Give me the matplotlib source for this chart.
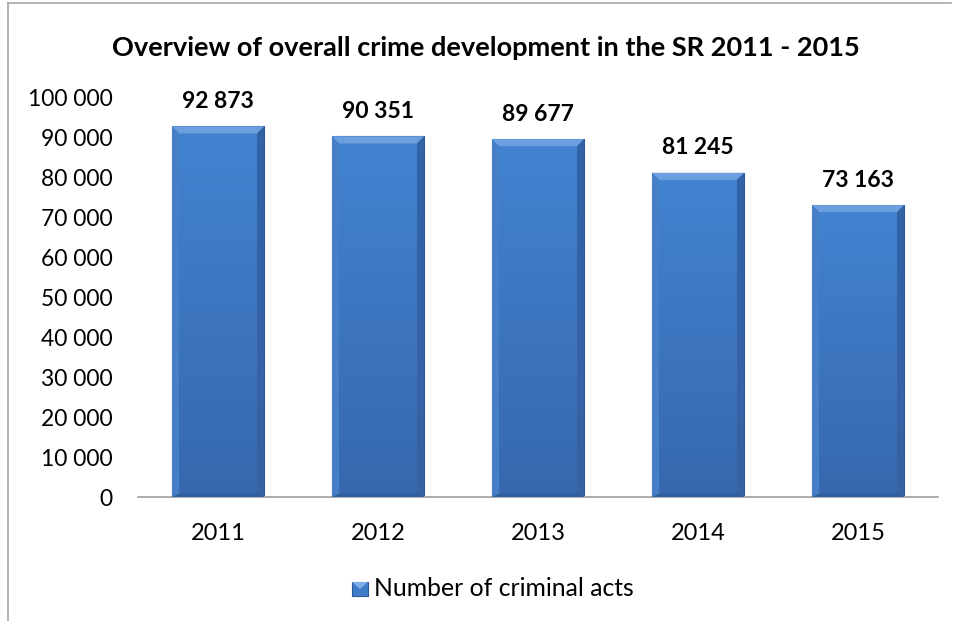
import matplotlib
matplotlib.use("Agg")
import matplotlib.pyplot as plt
from matplotlib.patches import Polygon
from matplotlib.transforms import IdentityTransform
from matplotlib.lines import Line2D
import numpy as np

years = ["2011", "2012", "2013", "2014", "2015"]
values = [92873, 90351, 89677, 81245, 73163]
yticks = [0, 10000, 20000, 30000, 40000, 50000, 60000, 70000, 80000, 90000, 100000]
title = "Overview of overall crime development in the SR 2011 - 2015"
legend_label = "Number of criminal acts"

plt.rcParams['font.family'] = ['Lato', 'DejaVu Sans']

W, H = 954, 621
fig = plt.figure(figsize=(W / 100, H / 100), dpi=100)
ax = fig.add_axes([138 / W, 1 - 497 / H, (938 - 138) / W, (497 - 98) / H])

x = np.arange(len(years))
bars = ax.bar(x, values, width=0.575, color="#3F7DCB", edgecolor="#2D5A96", linewidth=0.8, zorder=2)
ax.set_xlim(-0.5, len(years) - 0.5)
ax.set_ylim(0, 100000)
ax.set_yticks(yticks)
ax.set_yticklabels([f"{v:,}".replace(",", " ") for v in yticks], fontsize=16.5)
ax.set_xticks(x)
ax.set_xticklabels(years, fontsize=17)
ax.tick_params(axis='both', length=0)
ax.tick_params(axis='y', pad=18.5)
ax.tick_params(axis='x', pad=19)
for s in ['top', 'right', 'left']:
    ax.spines[s].set_visible(False)
ax.spines['bottom'].set_color('#A0A0A0')
ax.spines['bottom'].set_linewidth(1.2)

fig.canvas.draw()
# bevel decorations derived from the bar patches
b = 7
for p in bars.patches:
    bb = p.get_window_extent()
    x0, y0, x1, y1 = bb.x0, bb.y0, bb.x1, bb.y1
    top = Polygon([[x0, y1], [x1, y1], [x1 - b, y1 - b], [x0 + b, y1 - b]], closed=True,
                  transform=IdentityTransform(), facecolor="#6C9FDD", edgecolor='none', zorder=3)
    left = Polygon([[x0, y1], [x0 + b, y1 - b], [x0 + b, y0 + b / 2], [x0, y0]], closed=True,
                   transform=IdentityTransform(), facecolor="#457FC8", edgecolor='none', zorder=3)
    right = Polygon([[x1, y1], [x1 - b, y1 - b], [x1 - b, y0 + b / 2], [x1, y0]], closed=True,
                    transform=IdentityTransform(), facecolor="#3363A4", edgecolor='none', zorder=3)
    bottom = Polygon([[x0, y0], [x1, y0], [x1 - b, y0 + b / 2], [x0 + b, y0 + b / 2]], closed=True,
                     transform=IdentityTransform(), facecolor="#2F5E9E", edgecolor='none', zorder=3)
    for poly in (top, left, right, bottom):
        fig.add_artist(poly)
    grad = np.linspace(0, 1, 100).reshape(-1, 1)
    im = ax.imshow(grad, extent=(p.get_x(), p.get_x() + p.get_width(), 0, p.get_height()),
                   aspect='auto', cmap=matplotlib.colors.LinearSegmentedColormap.from_list(
                       'g', ["#3668AD", "#4383D1"]), origin='lower', zorder=2.5)
    im.set_clip_path(p)

ax.set_aspect('auto')
ax.set_xlim(-0.5, len(years) - 0.5)
ax.set_ylim(0, 100000)

for xi, v in zip(x, values):
    ax.annotate(f"{v:,}".replace(",", " "), (xi, v), xytext=(0, 25), textcoords='offset pixels',
                ha='center', va='center', fontsize=16.5, fontweight='bold', zorder=5)

fig.text(486 / W, 1 - 48 / H, title, ha='center', va='center', fontsize=19.5, fontweight='bold')

# legend
fig.add_artist(Polygon([[352, H - 582], [368, H - 582], [368, H - 596], [352, H - 596]], closed=True,
                       transform=IdentityTransform(), facecolor="#3F7DCB", edgecolor="#2D5A96", lw=0.8))
fig.add_artist(Polygon([[352, H - 582], [368, H - 582], [360, H - 589]], closed=True,
                       transform=IdentityTransform(), facecolor="#7EAEE6", edgecolor='none'))
fig.text(374 / W, 1 - 589 / H, legend_label, ha='left', va='center', fontsize=17.8)

# chart-area border
fig.add_artist(Line2D([8 / W, 8 / W], [0, 1 - 3 / H], color="#A8A8A8", lw=1.2))
fig.add_artist(Line2D([8 / W, 951 / W], [1 - 3 / H, 1 - 3 / H], color="#A8A8A8", lw=1.2))

fig.savefig("out.png", dpi=100)
